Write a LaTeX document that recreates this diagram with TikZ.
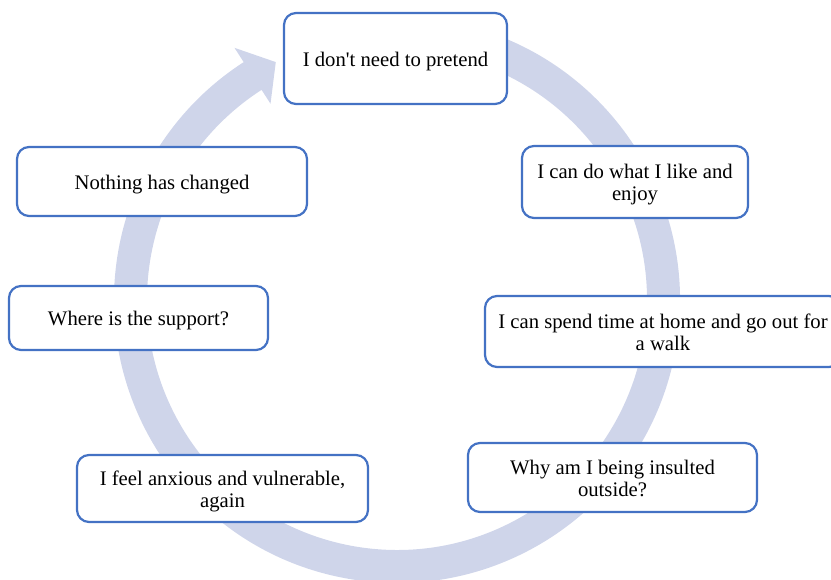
\documentclass[tikz,border=0pt]{standalone}
\usepackage{fontspec}
\setmainfont{Liberation Serif}
\definecolor{ringc}{RGB}{207,213,234}
\definecolor{boxc}{RGB}{68,114,196}
\newcommand{\boxtext}[1]{\raisebox{-3.5pt}[\height][\depth]{\begin{tabular}{@{}c@{}}#1\end{tabular}}}
\tikzset{
  cyclebox/.style={draw=boxc, line width=2.2pt, fill=white, rounded corners=12pt,
    align=center, inner sep=0pt, font=\fontsize{20.7}{22}\selectfont},
}
\begin{document}
\begin{tikzpicture}[x=1pt,y=1pt]
\useasboundingbox (0,0) rectangle (831,580);
\clip (0,0) rectangle (831,580);
% circular arrow
\begin{scope}[shift={(397,280)}]
\fill[ringc] (80:283) arc[start angle=80, end angle=-237.2, radius=283]
  -- (122.8:300) -- (117:267) -- (122.8:233.5) -- (122.8:250)
  arc[start angle=-237.2, end angle=80, radius=250] -- cycle;
\end{scope}
% boxes
\node[cyclebox, minimum width=223, minimum height=91] (b1) at (395.5,521.5) {\boxtext{I don\textquotesingle t need to pretend}};
\node[cyclebox, minimum width=226, minimum height=72] (b2) at (635,398) {\boxtext{I can do what I like and\\enjoy}};
\node[cyclebox, minimum width=356, minimum height=71] (b3) at (663,248.5) {\boxtext{I can spend time at home and go out for\\a walk}};
\node[cyclebox, minimum width=289, minimum height=69] (b4) at (612.5,102.5) {\boxtext{Why am I being insulted\\outside?}};
\node[cyclebox, minimum width=291, minimum height=67] (b5) at (222.5,91.5) {\boxtext{I feel anxious and vulnerable,\\again}};
\node[cyclebox, minimum width=259, minimum height=64] (b6) at (138.5,262) {\boxtext{Where is the support?}};
\node[cyclebox, minimum width=290, minimum height=69] (b7) at (162,398.5) {\boxtext{Nothing has changed}};
\end{tikzpicture}
\end{document}
